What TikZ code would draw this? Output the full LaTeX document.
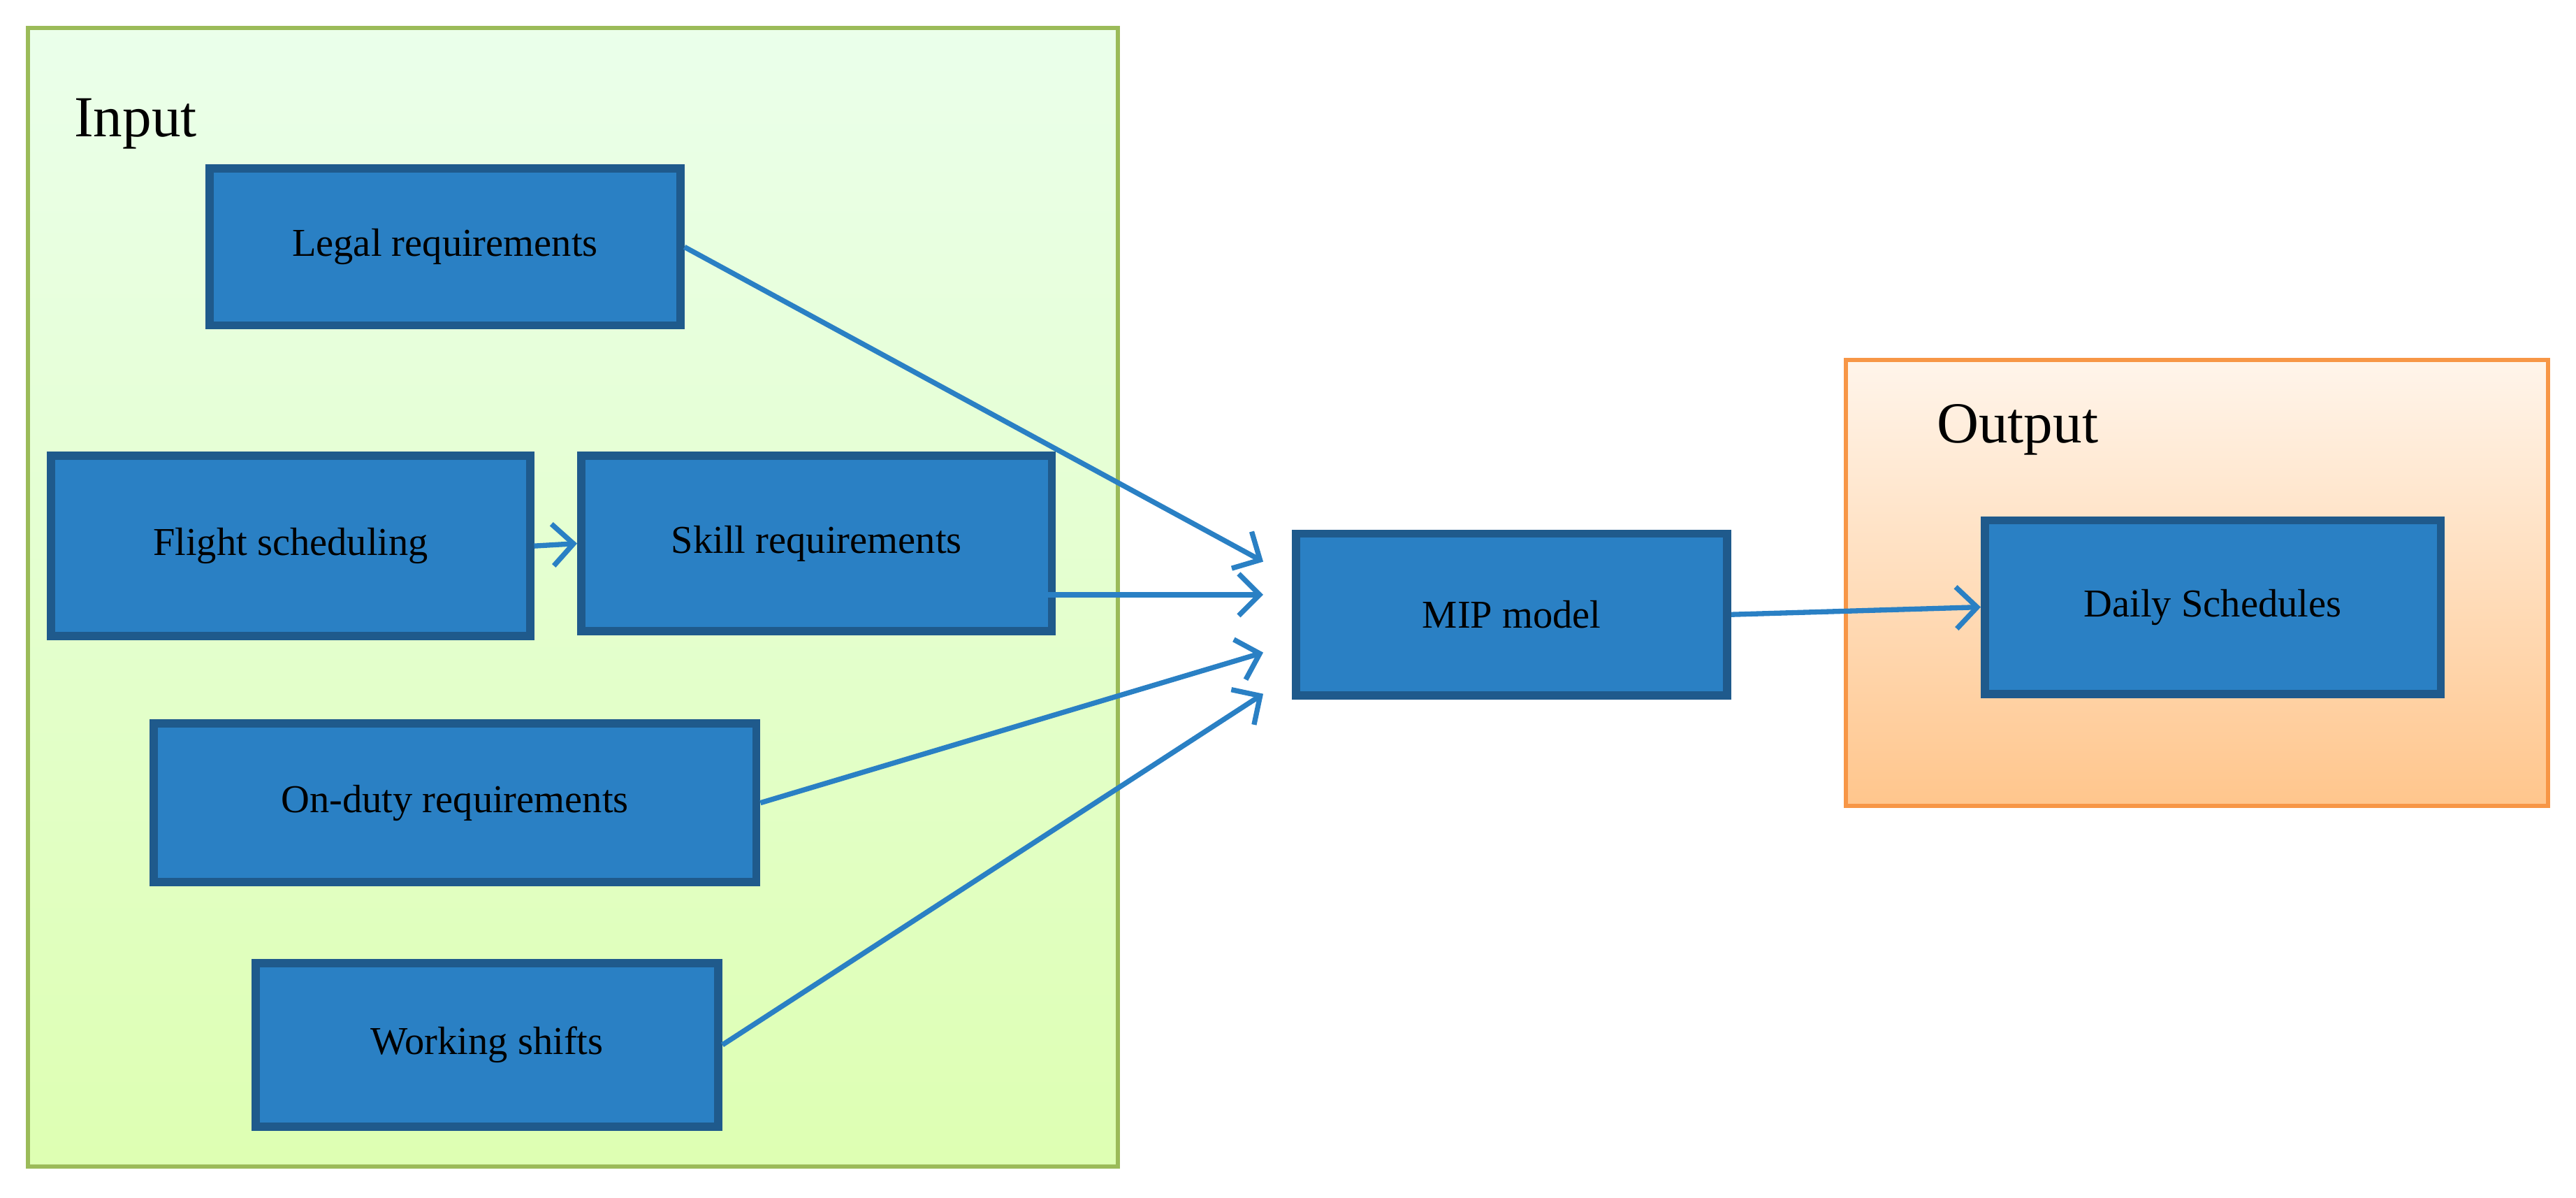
\documentclass[tikz,border=0pt]{standalone}
\usepackage{fontspec}
\setmainfont{Liberation Serif}
\usetikzlibrary{arrows.meta}
\definecolor{boxblue}{HTML}{2A80C4}
\definecolor{boxedge}{HTML}{1F5A8C}
\definecolor{ingreen}{HTML}{9BBB59}
\definecolor{outorange}{HTML}{F79646}
\begin{document}
\begin{tikzpicture}[x=0.025cm,y=-0.025cm]
  \tikzstyle{group} = [
    rectangle,
    anchor=center,
    line width=1.8pt,
  ]
  \tikzstyle{task} = [
    rectangle,
    anchor=center,
    align=center,
    fill=boxblue,
    draw=boxedge,
    line width=3.5pt,
    font=\fontsize{17}{20}\selectfont,
  ]
  \tikzstyle{flow} = [
    line width=2.2pt,
    draw=boxblue,
    -{Straight Barb[length=9pt,width=18pt,line width=2.2pt]},
  ]
  \useasboundingbox (0,0) rectangle (1560,725);

  % groups
  \node[group,draw=ingreen,top color=green!8!white,bottom color=green!25!lime!30!white,
    minimum width=16.5cm,minimum height=17.225cm] (input) at (347,361.5) {};
  \node[group,draw=outorange,top color=orange!8!white,bottom color=orange!45!white,
    minimum width=10.625cm,minimum height=6.75cm] (output) at (1330.5,353) {};
  \node[anchor=west,font=\fontsize{25}{30}\selectfont] (inlabel) at (40,75) {Input};
  \node[anchor=west,font=\fontsize{25}{30}\selectfont] (outlabel) at (1168,260) {Output};

  % tasks
  \node[task,minimum width=7.125cm,minimum height=2.375cm] (legal) at (269.5,149.5) {Legal requirements};
  \node[task,minimum width=7.25cm,minimum height=2.725cm] (flight) at (176,330.5) {Flight scheduling};
  \node[task,minimum width=7.125cm,minimum height=2.65cm] (skill) at (494.5,329) {Skill requirements};
  \node[task,minimum width=9.125cm,minimum height=2.4cm] (onduty) at (275.5,486) {On-duty requirements};
  \node[task,minimum width=7cm,minimum height=2.475cm] (working) at (295,632.5) {Working shifts};
  \node[task,minimum width=6.525cm,minimum height=2.45cm] (mip) at (915.5,372) {MIP model};
  \node[task,minimum width=6.9cm,minimum height=2.625cm] (daily) at (1340,367.5) {Daily Schedules};

  % arrow ends
  \coordinate (legalIn) at (765,340);
  \coordinate (skillOut) at (585,360);
  \coordinate (skillIn) at (765,360);
  \coordinate (ondutyIn) at (765,395);
  \coordinate (workingIn) at (765,420);

  \draw[flow] (legal.east) -- (legalIn);
  \draw[flow] (flight.east) -- (skill.west);
  \draw[flow] (skillOut) -- (skillIn);
  \draw[flow] (onduty.east) -- (ondutyIn);
  \draw[flow] (working.east) -- (workingIn);
  \draw[flow] (mip.east) -- (daily.west);
\end{tikzpicture}
\end{document}
